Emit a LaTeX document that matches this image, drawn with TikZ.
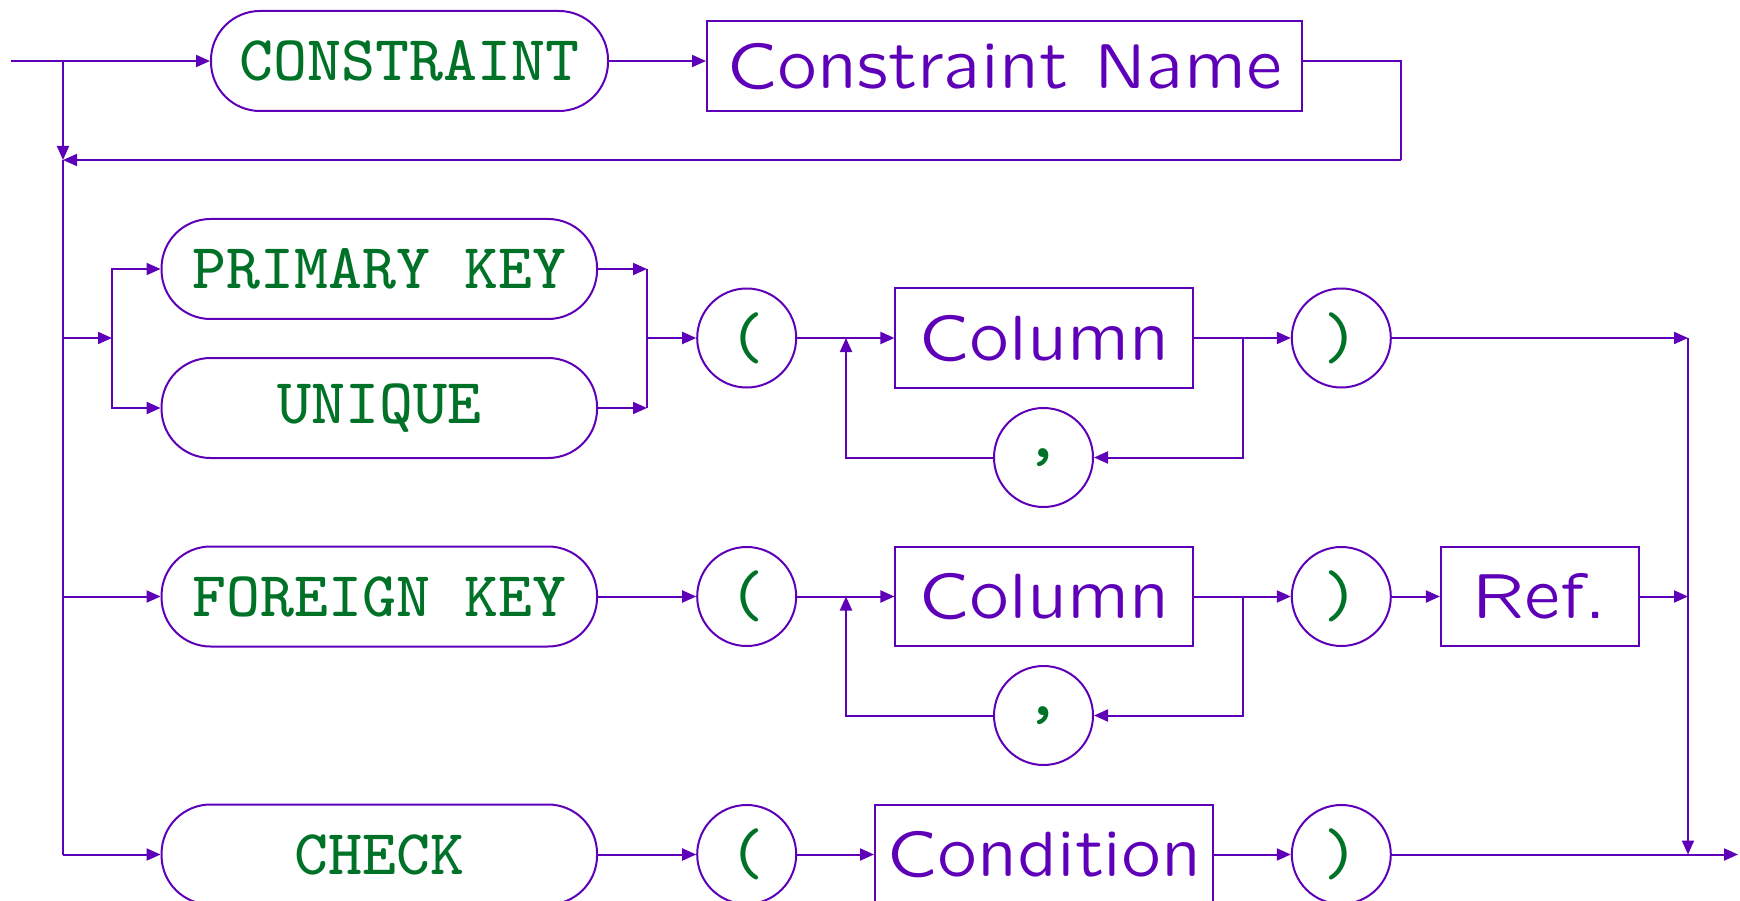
\documentclass[tikz,border=0pt]{standalone}
\usepackage{fontspec}
\usetikzlibrary{arrows.meta}
\definecolor{rail}{RGB}{94,0,184}
\definecolor{kw}{RGB}{0,114,40}
% typewriter keywords, small optical size for heavier strokes
\newfontfamily\kwfont{lmmono8-regular.otf}
% SliTeX sans, freely scalable
\DeclareFontFamily{OT1}{slss}{}
\DeclareFontShape{OT1}{slss}{m}{n}{<-> lcmss8}{}
\newcommand{\ntface}{\fontencoding{OT1}\fontfamily{slss}\fontseries{m}\fontshape{n}\fontsize{64}{74}\selectfont}
\newcommand{\kwface}{\kwfont\fontsize{64}{76}\selectfont}
\newcommand{\puface}{\kwfont\fontsize{66}{80}\selectfont}
\newcommand{\cmface}{\kwfont\fontsize{66}{80}\selectfont}
\begin{document}
\begin{tikzpicture}[x=1pt,y=-1pt,line width=2pt,color=rail,
  >={Triangle[length=14pt,width=12pt]},
  terminal/.style={draw=rail,rectangle,rounded corners=49pt,minimum height=100pt,
    minimum width=435.5pt,inner sep=0pt,text=kw,font=\kwface},
  nonterm/.style={draw=rail,rectangle,minimum height=99pt,inner sep=0pt,text=rail,font=\ntface},
  punct/.style={draw=rail,circle,minimum size=99pt,inner sep=0pt,text=kw,font=\puface}]
\useasboundingbox (0,0) rectangle (1740,901);

% optional constraint name
\node[terminal,minimum width=397pt] (cons) at (409.5,61) {CONSTRAINT};
\node[nonterm,minimum width=595pt,minimum height=90pt] (cname) at (1004.5,66) {Constraint Name};

% PRIMARY KEY / UNIQUE
\node[terminal] (pk) at (379.3,269) {PRIMARY KEY};
\node[terminal] (uq) at (379.3,408) {UNIQUE};
\node[punct] (lp1) at (746.7,338) {(};
\node[nonterm,minimum width=297.5pt] (col1) at (1044.2,338) {Column};
\node[punct] (rp1) at (1341.3,338) {)};
\node[punct,font=\cmface] (cm1) at (1043.5,457.5) {,};

% FOREIGN KEY
\node[terminal] (fk) at (379.3,596.5) {FOREIGN KEY};
\node[punct] (lp2) at (746.7,596.5) {(};
\node[nonterm,minimum width=297.5pt] (col2) at (1044.2,596.5) {Column};
\node[punct] (rp2) at (1341.3,596.5) {)};
\node[punct,font=\cmface] (cm2) at (1043.5,715.5) {,};
\node[nonterm,minimum width=198pt] (ref) at (1539.9,596.5) {Ref.};

% CHECK
\node[terminal] (chk) at (379.3,854.5) {CHECK};
\node[punct] (lp3) at (746.7,854.5) {(};
\node[nonterm,minimum width=338pt] (cond) at (1044,854.5) {Condition};
\node[punct] (rp3) at (1341.3,854.5) {)};

% junction points
\coordinate (start) at (11,61);
\coordinate (b0) at (63,61);
\coordinate (b1) at (63,160);
\coordinate (b2) at (63,338);
\coordinate (b3) at (63,596.5);
\coordinate (b4) at (63,854.5);
\coordinate (cr1) at (1401,61);
\coordinate (cr2) at (1401,160);
\coordinate (s2) at (112,338);
\coordinate (j2) at (647,338);
\coordinate (jl1) at (846,338);
\coordinate (jr1) at (1242.5,338);
\coordinate (jl2) at (846,596.5);
\coordinate (jr2) at (1242.5,596.5);
\coordinate (v1) at (1688,338);
\coordinate (v3) at (1688,854.5);
\coordinate (fin) at (1738,854.5);

% top line with optional name
\draw[->] (start) -- (cons.west);
\draw[->] (cons.east) -- (cons.east -| cname.west);
\draw (cname.east |- cr1) -- (cr1) -- (cr2);
\draw[->] (cr2) -- (b1);
\draw[->] (b0) -- (b1);
\draw (b1) -- (b4);

% row: PRIMARY KEY / UNIQUE
\draw[->] (b2) -- (s2);
\draw[->] (s2) |- (pk.west);
\draw[->] (s2) |- (uq.west);
\draw[->] (pk.east) -- (pk.east -| j2);
\draw[->] (uq.east) -- (uq.east -| j2);
\draw (pk.east -| j2) -- (uq.east -| j2);
\draw[->] (j2) -- (lp1);
\draw[->] (lp1) -- (col1);
\draw[->] (col1) -- (rp1);
\draw[->] (jr1) |- (cm1.east);
\draw[->] (cm1.west) -| (jl1);
\draw[->] (rp1) -- (v1);

% row: FOREIGN KEY
\draw[->] (b3) -- (fk.west);
\draw[->] (fk) -- (lp2);
\draw[->] (lp2) -- (col2);
\draw[->] (col2) -- (rp2);
\draw[->] (jr2) |- (cm2.east);
\draw[->] (cm2.west) -| (jl2);
\draw[->] (rp2) -- (ref);
\draw[->] (ref.east) -- (ref.east -| v1);

% row: CHECK
\draw[->] (b4) -- (chk.west);
\draw[->] (chk) -- (lp3);
\draw[->] (lp3) -- (cond);
\draw[->] (cond) -- (rp3);
\draw[->] (rp3) -- (fin);
\draw[->] (v1) -- (v3);
\end{tikzpicture}
\end{document}
